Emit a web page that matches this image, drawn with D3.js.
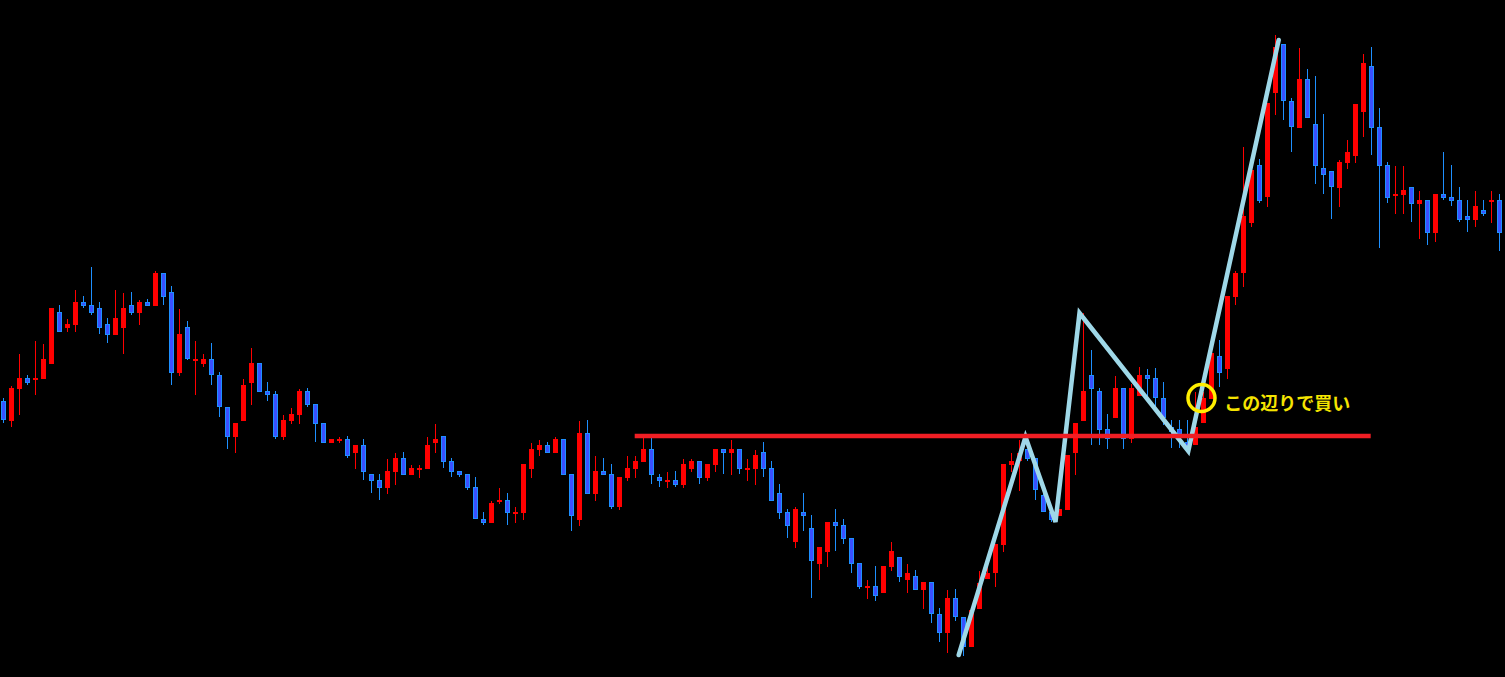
<!DOCTYPE html>
<html>
<head>
<meta charset="utf-8">
<script src="https://cdn.jsdelivr.net/npm/d3@7"></script>
<style>
  html, body { margin: 0; padding: 0; background: #000; overflow: hidden; }
  .wick { shape-rendering: crispEdges; }
  .body { shape-rendering: crispEdges; }
</style>
</head>
<body>
<script>
// chart size
var w = 1505,
    h = 677;

// candle data (price units, bar index = position)
var opens = [
  299,279,311,322,322,321,336,388,372,375,
  398,395,392,376,365,372,395,387,398,394,
  427,408,327,373,341,336,341,325,293,263,
  279,317,337,309,306,263,279,285,309,296,
  277,257,261,261,247,255,226,220,212,228,
  242,225,232,231,257,264,239,229,226,213,
  181,177,200,200,188,187,231,250,255,247,
  261,226,180,267,206,229,226,193,222,231,
  238,251,223,220,220,215,231,239,222,235,
  251,247,251,232,231,248,232,207,188,158,
  188,172,136,148,178,175,162,137,114,114,
  107,133,143,120,124,110,118,86,67,102,
  83,53,91,121,127,155,235,239,251,242,
  205,188,184,190,247,279,325,309,271,282,
  312,261,304,325,322,302,273,271,258,255,
  277,301,344,331,403,427,477,535,503,607,
  656,599,572,621,576,532,529,512,537,544,
  588,634,573,535,506,505,513,496,500,467,
  506,503,500,484,480,490,500,500
];
var highs = [
  302,314,346,325,359,356,392,395,381,410,
  404,433,398,382,410,407,408,400,401,429,
  427,414,391,379,359,346,357,328,293,277,
  321,352,337,318,309,285,292,311,312,296,
  277,261,263,264,255,261,226,226,241,247,
  248,235,235,263,276,264,242,229,226,223,
  188,199,212,207,193,236,257,260,258,263,
  261,226,279,280,244,242,236,223,244,244,
  265,263,226,228,229,241,241,239,236,251,
  251,260,251,241,250,258,239,216,191,193,
  207,185,153,178,191,181,162,137,120,134,
  134,158,143,136,130,118,118,92,110,111,
  83,92,129,133,156,236,247,260,251,242,
  210,190,191,245,277,387,350,312,286,324,
  312,316,333,331,332,318,280,280,280,308,
  308,360,360,404,429,553,535,541,597,665,
  656,602,652,631,624,586,529,540,560,596,
  646,653,592,538,534,534,513,509,500,506,
  548,535,513,500,509,500,509,506
];
var lows = [
  277,273,285,315,305,321,336,368,368,368,
  392,385,366,357,365,346,385,375,394,394,
  395,315,324,340,305,333,315,283,251,247,
  279,295,308,299,261,260,276,276,293,258,
  257,257,257,242,231,220,207,200,206,215,
  225,225,222,231,247,232,223,223,210,181,
  175,177,196,175,177,180,222,244,247,247,
  225,169,174,206,199,225,191,190,219,222,
  238,216,213,212,213,212,228,216,219,228,
  226,225,226,219,215,223,199,181,162,152,
  169,102,120,133,149,156,127,111,101,99,
  107,129,118,107,110,91,77,58,47,79,
  44,53,91,121,113,148,228,209,239,200,
  188,178,184,190,225,279,255,255,251,282,
  251,257,304,304,292,275,252,252,247,255,
  277,301,313,321,395,413,473,497,493,585,
  580,548,572,582,516,506,481,493,531,537,
  563,545,452,497,486,486,478,461,455,458,
  500,494,478,468,473,484,477,449
];
var closes = [
  280,312,322,317,322,341,392,368,376,398,
  394,387,372,365,382,392,387,398,394,427,
  403,327,366,341,341,341,325,293,263,277,
  315,337,308,305,263,280,286,309,295,276,
  257,261,261,244,255,228,219,212,229,242,
  225,232,232,255,261,238,228,225,212,181,
  177,197,200,187,188,236,251,255,247,261,
  225,184,267,206,229,225,193,223,232,239,
  251,225,219,220,215,236,239,222,236,251,
  247,251,231,232,245,231,199,187,174,191,
  184,139,153,178,174,161,136,113,114,104,
  134,149,123,127,110,118,86,67,102,83,
  53,90,117,127,156,236,239,247,241,210,
  188,180,191,245,277,309,311,270,261,312,
  261,312,325,321,302,282,268,266,253,273,
  302,347,327,404,427,484,530,499,597,653,
  599,573,621,582,534,525,513,538,548,596,
  637,572,534,502,506,510,496,500,467,506,
  502,499,480,480,494,486,500,467
];

// zigzag drawn over the chart (bar index, price)
var zigIdx = [119.4, 127.75, 131.5, 134.5, 148.1, 159.4];
var zigVal = [45, 263, 178, 387, 249, 660];

// horizontal resistance line
var levelVal = 264,
    levelFrom = 78.9,
    levelTo = 170.9;

// annotation
var noteIdx = 149.75,
    noteVal = 302,
    noteTextIdx = 152.6,
    noteTextVal = 290,
    noteText = 'この辺りで買い';

var upColor = '#ff0000',
    downFill = '#3a50ff',
    downStroke = '#1e90ff';

var dataset = d3.range(opens.length).map(function(i) {
  return { i: i, open: opens[i], high: highs[i], low: lows[i], close: closes[i] };
});

// scales
var xScale = d3.scaleLinear()
               .domain([0, dataset.length - 1])
               .range([3.5, 3.5 + 8 * (dataset.length - 1)]);

var yScale = d3.scaleLinear()
               .domain([0, 700])
               .range([700, 0]);

var svg = d3.select('body')
            .append('svg')
            .attr('width', w)
            .attr('height', h)
            .style('display', 'block')
            .style('background', '#000');

var candles = svg.append('g');

// wicks
candles.selectAll('line.wick')
       .data(dataset)
       .enter()
       .append('line')
       .attr('class', 'wick')
       .attr('x1', function(d) { return xScale(d.i); })
       .attr('x2', function(d) { return xScale(d.i); })
       .attr('y1', function(d) { return yScale(d.high); })
       .attr('y2', function(d) { return yScale(d.low); })
       .attr('stroke', function(d) { return d.close >= d.open ? upColor : downStroke; })
       .attr('stroke-width', 1);

// bodies
candles.selectAll('rect.body')
       .data(dataset)
       .enter()
       .append('rect')
       .attr('class', 'body')
       .attr('x', function(d) {
         return d.close >= d.open ? xScale(d.i) - 2.5 : xScale(d.i) - 2;
       })
       .attr('width', function(d) { return d.close >= d.open ? 5 : 4; })
       .attr('y', function(d) {
         var top = yScale(Math.max(d.open, d.close));
         return d.close >= d.open ? top : top + 0.5;
       })
       .attr('height', function(d) {
         var hh = Math.abs(yScale(d.open) - yScale(d.close));
         if (d.close >= d.open) return Math.max(hh, 1.5);
         return Math.max(hh - 1, 1);
       })
       .attr('fill', function(d) { return d.close >= d.open ? upColor : downFill; })
       .attr('stroke', function(d) { return d.close >= d.open ? 'none' : downStroke; })
       .attr('stroke-width', 1);

// zigzag
var zig = d3.range(zigIdx.length).map(function(k) { return [zigIdx[k], zigVal[k]]; });

var zigLine = d3.line()
                .x(function(d) { return xScale(d[0]); })
                .y(function(d) { return yScale(d[1]); });

svg.append('path')
   .datum(zig)
   .attr('d', zigLine)
   .attr('fill', 'none')
   .attr('stroke', '#9fd8e8')
   .attr('stroke-width', 4.5)
   .attr('stroke-linejoin', 'miter')
   .attr('stroke-linecap', 'round');

// level line
svg.append('line')
   .attr('x1', xScale(levelFrom))
   .attr('x2', xScale(levelTo))
   .attr('y1', yScale(levelVal))
   .attr('y2', yScale(levelVal))
   .attr('stroke', '#f01e24')
   .attr('stroke-width', 4.5);

// buy point marker
svg.append('circle')
   .attr('cx', xScale(noteIdx))
   .attr('cy', yScale(noteVal))
   .attr('r', 13.5)
   .attr('fill', 'none')
   .attr('stroke', '#ffee00')
   .attr('stroke-width', 3.5);

svg.append('text')
   .attr('x', xScale(noteTextIdx))
   .attr('y', yScale(noteTextVal))
   .attr('fill', '#f5e400')
   .attr('font-family', '"Noto Sans CJK JP", sans-serif')
   .attr('font-weight', 'bold')
   .attr('font-size', 18)
   .text(noteText);
</script>
</body>
</html>
